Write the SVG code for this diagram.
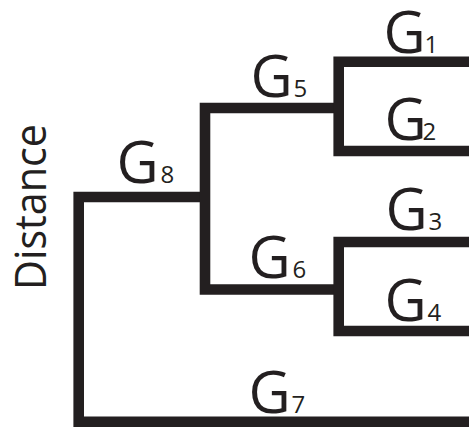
<svg xmlns="http://www.w3.org/2000/svg" width="469" height="430" viewBox="0 0 469 430">
<style>
.ln{fill:none;stroke:#231f20;stroke-width:10.6;stroke-linejoin:miter;stroke-linecap:butt}
.g{font-family:"Open Sans","Liberation Sans",sans-serif;font-size:58px;fill:#231f20}
.s{font-family:"Open Sans","Liberation Sans",sans-serif;font-size:24px;fill:#231f20}
.ax{font-family:"Open Sans","Liberation Sans",sans-serif;font-size:44px;fill:#231f20}
</style>
<rect width="469" height="430" fill="#ffffff"/>
<g id="connectors">
<path class="ln" d="M469 421.7 H78.7 V197 H205"/>
<path class="ln" d="M338.7 108 H205 V289.5 H338.7"/>
<path class="ln" d="M469 61.7 H338.7 V151 H469"/>
<path class="ln" d="M469 242 H338.7 V331 H469"/>
</g>
<g id="G1"><text class="g" x="383.5" y="53">G</text><text class="s" x="424.5" y="53">1</text></g>
<g id="G2"><text class="g" x="384.5" y="140">G</text><text class="s" x="422.5" y="140">2</text></g>
<g id="G3"><text class="g" x="385.5" y="230">G</text><text class="s" x="428.5" y="230">3</text></g>
<g id="G4"><text class="g" x="384.5" y="321">G</text><text class="s" x="427.5" y="321">4</text></g>
<g id="G5"><text class="g" x="250.5" y="96.5">G</text><text class="s" x="293.5" y="96.5">5</text></g>
<g id="G6"><text class="g" x="248.5" y="278">G</text><text class="s" x="292.5" y="278">6</text></g>
<g id="G7"><text class="g" x="248.5" y="413">G</text><text class="s" x="291.5" y="413">7</text></g>
<g id="G8"><text class="g" x="116.5" y="182.5">G</text><text class="s" x="160.5" y="182.5">8</text></g>
<g id="axis"><text class="ax" transform="translate(45.5 290) rotate(-90)" x="0" y="0" textLength="166" lengthAdjust="spacingAndGlyphs">Distance</text></g>
</svg>
